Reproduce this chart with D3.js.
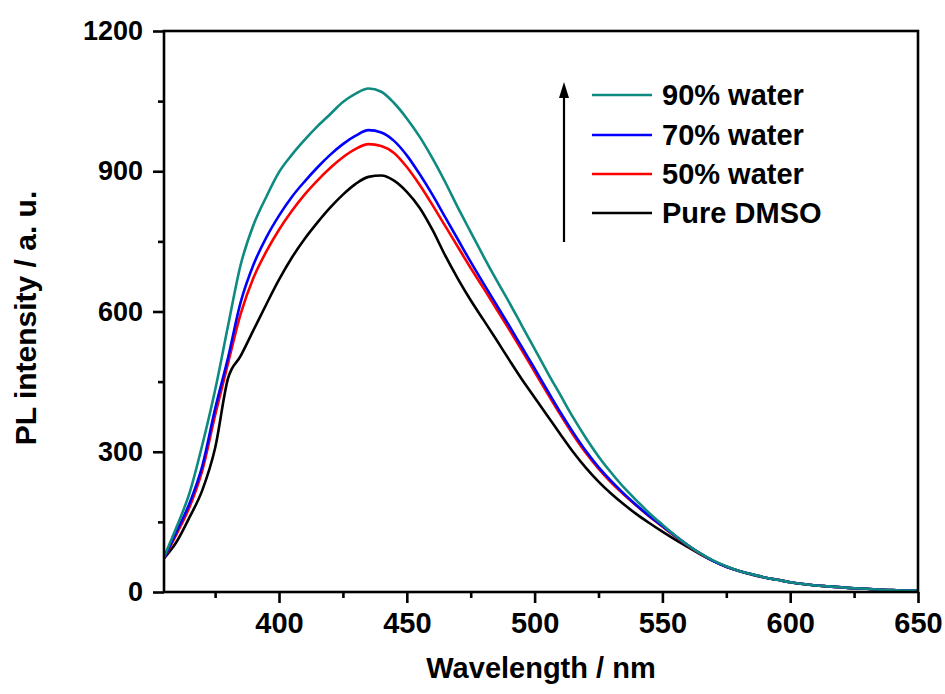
<!DOCTYPE html>
<html>
<head>
<meta charset="utf-8">
<script src="https://cdn.jsdelivr.net/npm/d3@7/dist/d3.min.js"></script>
<style>
  html, body { margin: 0; padding: 0; background: #fff; }
  svg { display: block; }
  text { font-family: "Liberation Sans", Arial, sans-serif; font-weight: bold; fill: #000; }
</style>
</head>
<body>
<svg id="chart" width="945" height="694"></svg>
<script>
// Emission wavelengths (nm)
const wavelength = [355,360,365,370,375,380,385,390,395,400,
  405,410,415,420,425,430,435,440,445,450,
  455,460,465,470,475,480,485,490,495,500,
  505,510,515,520,525,530,535,540,545,550,
  555,560,565,570,575,580,585,590,595,600,
  605,610,615,620,625,630,635,640,645,650];

// PL intensity (a. u.) for each solvent mixture
const water90 = [75,140,212,315,432,568,700,785,845,898,
  935,967,996,1022,1048,1066,1077,1070,1046,1013,
  974,928,877,822,770,718,668,620,570,520,
  470,422,374,330,290,255,223,195,168,144,
  121,100,82,67,55,45,38,31,26,21,
  17,14,12,10,8,7,5,4,3,3];
const water70 = [72,130,190,270,392,500,620,700,758,805,
  845,878,908,935,958,976,988,983,965,934,
  894,850,802,754,706,660,615,570,524,478,
  431,385,342,302,267,237,210,185,162,141,
  120,100,82,66,54,45,38,31,26,21,
  17,14,12,10,8,7,5,4,3,3];
const water50 = [72,125,182,260,378,488,595,672,728,775,
  815,850,880,907,930,948,958,954,939,909,
  871,828,783,738,693,650,606,562,517,471,
  425,380,337,298,264,234,208,184,161,140,
  119,99,81,66,54,45,38,31,26,21,
  17,14,12,10,8,7,5,4,3,3];
const pureDMSO = [72,108,160,218,308,456,505,560,615,668,
  715,755,790,822,850,873,888,891,880,856,
  822,775,720,670,624,582,540,497,455,416,
  377,338,300,266,236,210,187,166,147,129,
  112,96,80,66,54,45,37,31,26,21,
  17,14,12,10,8,7,5,4,3,3];

const seriesNames = ["90% water", "70% water", "50% water", "Pure DMSO"];
const seriesColors = ["#0e8a80", "#0000ff", "#ff0000", "#000000"];
const seriesValues = [water90, water70, water50, pureDMSO];

const xMajorTicks = [400, 450, 500, 550, 600, 650];
const xMinorTicks = [375, 425, 475, 525, 575, 625];
const yMajorTicks = [0, 300, 600, 900, 1200];
const yMinorTicks = [150, 450, 750, 1050];

const svg = d3.select("#chart");
const plotLeft = 164, plotRight = 918, plotTop = 31, plotBottom = 592;

const x = d3.scaleLinear().domain([355, 650]).range([plotLeft, plotRight]);
const y = d3.scaleLinear().domain([0, 1200]).range([plotBottom, plotTop]);

// Spectra, drawn bottom-up so the 90% water trace sits on top
const line = d3.line()
  .x((d, i) => x(wavelength[i]))
  .y(d => y(d))
  .curve(d3.curveMonotoneX);

const order = [3, 2, 1, 0];
const plot = svg.append("g");
order.forEach(k => {
  plot.append("path")
    .datum(seriesValues[k])
    .attr("fill", "none")
    .attr("stroke", seriesColors[k])
    .attr("stroke-width", 2.6)
    .attr("stroke-linejoin", "round")
    .attr("d", line);
});

// Frame
svg.append("rect")
  .attr("x", plotLeft).attr("y", plotTop)
  .attr("width", plotRight - plotLeft).attr("height", plotBottom - plotTop)
  .attr("fill", "none").attr("stroke", "#000").attr("stroke-width", 2.6);

// X axis
const xAxis = svg.append("g").attr("transform", `translate(0,${plotBottom})`)
  .call(d3.axisBottom(x).tickValues(xMajorTicks).tickSize(11).tickSizeOuter(0).tickPadding(9));
const xMinor = svg.append("g").attr("transform", `translate(0,${plotBottom})`)
  .call(d3.axisBottom(x).tickValues(xMinorTicks).tickSize(6).tickSizeOuter(0).tickFormat(""));

// Y axis
const yAxis = svg.append("g").attr("transform", `translate(${plotLeft},0)`)
  .call(d3.axisLeft(y).tickValues(yMajorTicks).tickFormat(d3.format("d"))
    .tickSize(11).tickSizeOuter(0).tickPadding(10));
const yMinor = svg.append("g").attr("transform", `translate(${plotLeft},0)`)
  .call(d3.axisLeft(y).tickValues(yMinorTicks).tickSize(6).tickSizeOuter(0).tickFormat(""));

[xAxis, xMinor, yAxis, yMinor].forEach(g => {
  g.select(".domain").remove();
  g.selectAll("line").attr("stroke", "#000").attr("stroke-width", 2.6);
});
xAxis.selectAll("text")
  .style("font-family", '"Liberation Sans", Arial, sans-serif')
  .style("font-weight", "bold").style("font-size", "29px").attr("fill", "#000");
yAxis.selectAll("text")
  .style("font-family", '"Liberation Sans", Arial, sans-serif')
  .style("font-weight", "bold").style("font-size", "27px").attr("fill", "#000");

// Axis titles
svg.append("text")
  .attr("x", 541).attr("y", 678)
  .attr("text-anchor", "middle")
  .style("font-size", "29px")
  .text("Wavelength / nm");

svg.append("text")
  .attr("transform", "translate(36,318) rotate(-90)")
  .attr("text-anchor", "middle")
  .style("font-size", "30px")
  .text("PL intensity / a. u.");

// Legend
const legend = svg.append("g");
const rowY = [95, 135, 174, 213];
seriesNames.forEach((name, i) => {
  legend.append("line")
    .attr("x1", 592).attr("x2", 652)
    .attr("y1", rowY[i]).attr("y2", rowY[i])
    .attr("stroke", seriesColors[i]).attr("stroke-width", 2.6);
  legend.append("text")
    .attr("x", 662).attr("y", rowY[i] + 10)
    .style("font-size", "29px")
    .text(name);
});

// Arrow indicating increasing water fraction
legend.append("line")
  .attr("x1", 564).attr("x2", 564)
  .attr("y1", 242).attr("y2", 96)
  .attr("stroke", "#000").attr("stroke-width", 2.2);
legend.append("path")
  .attr("d", "M564,82 L559,98 L569,98 Z")
  .attr("fill", "#000");
</script>
</body>
</html>
